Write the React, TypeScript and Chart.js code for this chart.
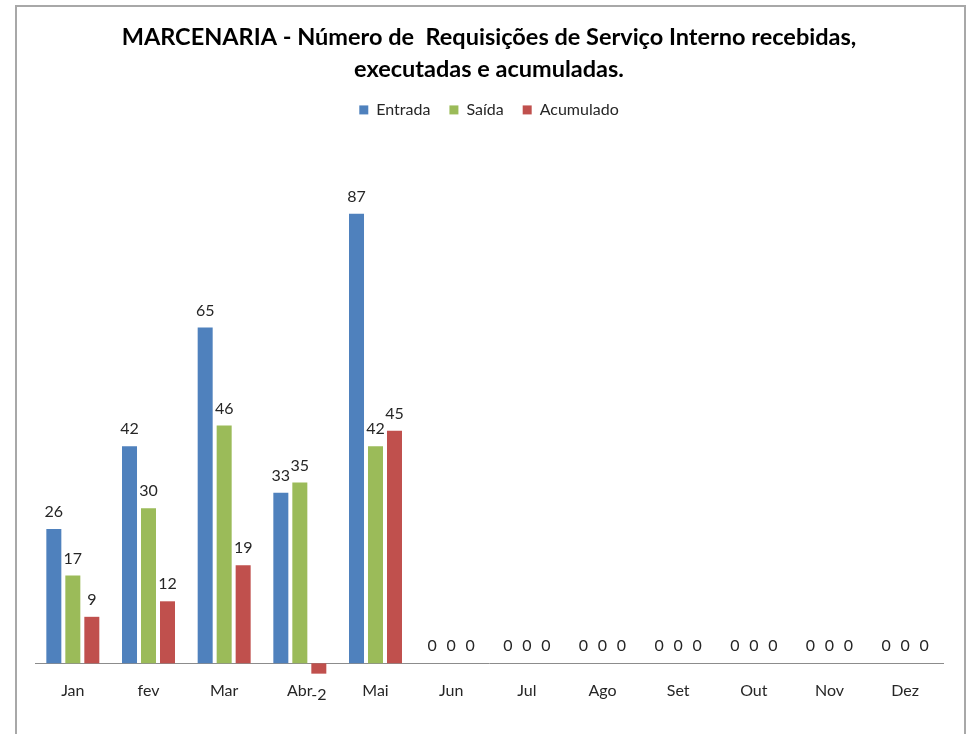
import React, { useEffect, useRef } from "react";
import { Chart, registerables } from "chart.js";

Chart.register(...registerables);

const categories = ["Jan", "fev", "Mar", "Abr", "Mai", "Jun", "Jul", "Ago", "Set", "Out", "Nov", "Dez"];
const entrada = [26, 42, 65, 33, 87, 0, 0, 0, 0, 0, 0, 0];
const saida = [17, 30, 46, 35, 42, 0, 0, 0, 0, 0, 0, 0];
const acumulado = [9, 12, 19, -2, 45, 0, 0, 0, 0, 0, 0, 0];
const titleLines = [
  "MARCENARIA - Número de  Requisições de Serviço Interno recebidas,",
  "executadas e acumuladas.",
];

const FONT = "Lato";

const framePlugin = {
  id: "frame",
  beforeDraw(chart: any) {
    const ctx = chart.ctx;
    ctx.save();
    ctx.fillStyle = "#ffffff";
    ctx.fillRect(0, 0, chart.width, chart.height);
    ctx.strokeStyle = "#a8a8a8";
    ctx.lineWidth = 2;
    ctx.beginPath();
    ctx.moveTo(16, chart.height + 5);
    ctx.lineTo(16, 6);
    ctx.lineTo(965, 6);
    ctx.lineTo(965, chart.height + 5);
    ctx.stroke();
    ctx.restore();
  },
};

const dataLabelPlugin = {
  id: "dataLabels",
  afterDatasetsDraw(chart: any) {
    const ctx = chart.ctx;
    ctx.save();
    ctx.font = `16px ${FONT}`;
    ctx.fillStyle = "#262626";
    ctx.textAlign = "center";
    ctx.textBaseline = "middle";
    chart.data.datasets.forEach((ds: any, i: number) => {
      const meta = chart.getDatasetMeta(i);
      meta.data.forEach((bar: any, j: number) => {
        const v = ds.data[j];
        const { x, y } = bar.getProps(["x", "y"], true);
        const ty = v < 0 ? y + 21 : y - 17;
        ctx.fillText(String(v), x, ty);
      });
    });
    ctx.restore();
  },
};

export default function App() {
  const ref = useRef<HTMLCanvasElement | null>(null);

  useEffect(() => {
    document.body.style.margin = "0";
    if (!ref.current) return;
    const chart = new Chart(ref.current, {
      type: "bar",
      data: {
        labels: categories,
        datasets: [
          { label: "Entrada", data: entrada, backgroundColor: "#4F81BD" },
          { label: "Saída", data: saida, backgroundColor: "#9BBB59" },
          { label: "Acumulado", data: acumulado, backgroundColor: "#C0504D" },
        ],
      },
      options: {
        animation: false,
        responsive: true,
        maintainAspectRatio: false,
        datasets: {
          bar: { categoryPercentage: 0.753, barPercentage: 0.79 },
        },
        layout: { padding: { left: 35, right: 24, top: 0, bottom: 19 } },
        plugins: {
          title: {
            display: true,
            text: titleLines,
            color: "#000000",
            font: { family: FONT, size: 23.5, weight: "bold", lineHeight: 1.36 },
            padding: { top: 21, bottom: -2 },
          },
          legend: {
            display: true,
            position: "top",
            labels: {
              boxWidth: 9,
              boxHeight: 9,
              padding: 19,
              color: "#262626",
              font: { family: FONT, size: 16 },
            },
          },
          tooltip: { enabled: false },
        },
        scales: {
          x: {
            position: { y: 0 } as any,
            grid: { display: false, drawTicks: false },
            border: { display: true, color: "#8c8c8c", width: 1 },
            ticks: {
              color: "#262626",
              font: { family: FONT, size: 16 },
              padding: 18,
              maxRotation: 0,
            },
          },
          y: {
            display: false,
            min: -10,
            max: 103.6,
          },
        },
      },
      plugins: [framePlugin, dataLabelPlugin],
    });
    return () => chart.destroy();
  }, []);

  return (
    <div style={{ position: "relative", width: "967px", height: "734px" }}>
      <canvas ref={ref} />
    </div>
  );
}
